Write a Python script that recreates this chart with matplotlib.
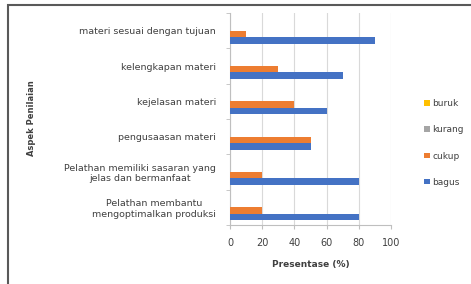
import matplotlib.pyplot as plt
import numpy as np
from matplotlib.patches import Rectangle

# categories, top to bottom as they appear in the chart
categories = [
    "materi sesuai dengan tujuan",
    "kelengkapan materi",
    "kejelasan materi",
    "pengusaasan materi",
    "Pelathan memiliki sasaran yang\njelas dan bermanfaat",
    "Pelathan membantu\nmengoptimalkan produksi",
]
bagus = [90, 70, 60, 50, 80, 80]
cukup = [10, 30, 40, 50, 20, 20]
kurang = [0, 0, 0, 0, 0, 0]
buruk = [0, 0, 0, 0, 0, 0]

series = [("bagus", bagus, "#4472C4"), ("cukup", cukup, "#ED7D31"),
          ("kurang", kurang, "#A5A5A5"), ("buruk", buruk, "#FFC000")]
xticks = [0, 20, 40, 60, 80, 100]

plt.rcParams["font.family"] = ["DejaVu Sans"]
txt = "#404040"

fig = plt.figure(figsize=(4.71, 2.84), dpi=100)
ax = fig.add_axes([230 / 471, 1 - 225 / 284, 161 / 471, 212 / 284])

n = len(categories)
y = np.arange(n)[::-1]  # top category at top
h = 1 / 5.5
for i, (name, vals, col) in enumerate(series):
    # first series sits lowest in each group
    ax.barh(y - 1.5 * h + i * h, vals, height=h, color=col, label=name, zorder=3)

ax.set_xlim(0, 100)
ax.set_ylim(-0.5, n - 0.5)
ax.set_xticks(xticks)
ax.set_xticklabels([str(v) for v in xticks], fontsize=7, color=txt)
ax.set_yticks(y)
ax.set_yticklabels(categories, fontsize=6.8, color=txt, ha="right",
                   multialignment="center")
ax.tick_params(axis="y", length=0, pad=10)
ax.tick_params(axis="x", length=3, color="#bfbfbf", pad=6)
ax.set_yticks(np.arange(n + 1) - 0.5, minor=True)
ax.tick_params(axis="y", which="minor", length=3, color="#bfbfbf")
ax.grid(axis="x", color="#d9d9d9", linewidth=0.8, zorder=0)
for s in ["top", "right"]:
    ax.spines[s].set_visible(False)
ax.spines["left"].set_color("#bfbfbf")
ax.spines["bottom"].set_color("#bfbfbf")

ax.set_xlabel("Presentase (%)", fontsize=6.5, fontweight="bold", color=txt, labelpad=9)
fig.text(31 / 471, 1 - 118 / 284, "Aspek Penilaian", rotation=90, fontsize=6,
         fontweight="bold", color=txt, ha="center", va="center")

handles, labels = ax.get_legend_handles_labels()
ax.legend(handles[::-1], labels[::-1], loc="center left",
          bbox_to_anchor=(416 / 471, 1 - 143 / 284), bbox_transform=fig.transFigure,
          frameon=False, fontsize=6.5, labelcolor=txt, handlelength=0.6,
          handleheight=0.6, handletextpad=0.3, labelspacing=1.9)

# outer chart frame
fig.patches.append(Rectangle((8 / 471, -0.05), 1.1, 1 - 5 / 284 + 0.05,
                             transform=fig.transFigure, fill=False,
                             edgecolor="#595959", linewidth=1.5))

fig.savefig("out.png", dpi=100)
